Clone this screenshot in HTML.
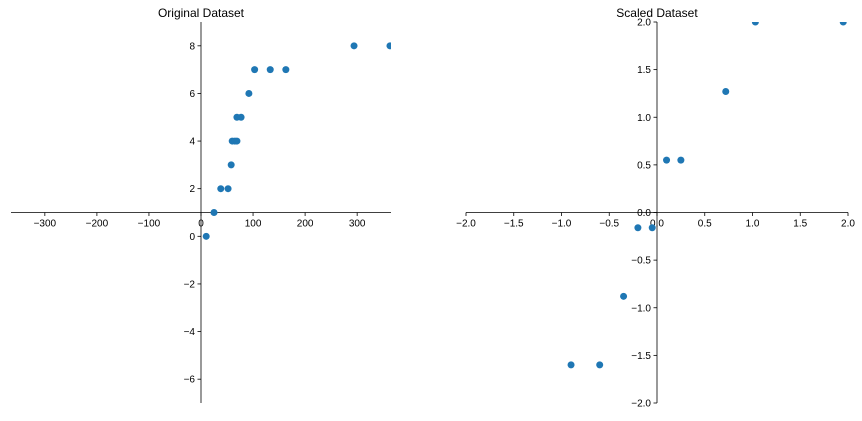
<!DOCTYPE html>
<html><head><meta charset="utf-8"><style>
body{margin:0;background:#fff;}
svg text{font-family:"Liberation Sans","DejaVu Sans",sans-serif;font-size:10px;fill:#000;}
</style></head><body>
<svg width="862" height="416" id="fig">
<rect width="862" height="416" fill="#fff"/>
</svg>
<script>
const origX=[10,25,38,52,58,60,65,69,69,77,92,103,133,163,294,363];
const origY=[0,1,2,2,3,4,4,4,5,5,6,7,7,7,8,8];
const scaledX=[-0.9,-0.6,-0.35,-0.2,-0.05,0.1,0.25,0.72,1.03,1.95];
const scaledY=[-1.6,-1.6,-0.88,-0.16,-0.16,0.55,0.55,1.27,2.0,2.0];
const origXTicks=[-300,-200,-100,0,100,200,300];
const origYTicks=[-6,-4,-2,0,2,4,6,8];
const scaledTicks=[-2.0,-1.5,-1.0,-0.5,0.0,0.5,1.0,1.5,2.0];
const NS="http://www.w3.org/2000/svg";
const svg=document.getElementById('fig');
function el(t,a,p){const e=document.createElementNS(NS,t);for(const k in a)e.setAttribute(k,a[k]);(p||svg).appendChild(e);return e;}
let cid=0;
function panel(name,title,L,R,T,B,xmin,xmax,ymin,ymax,xs,ys,xt,yt,fmt){
  const g=el('g',{});
  
  
  const sx=v=>L+(v-xmin)/(xmax-xmin)*(R-L);
  const sy=v=>B-(v-ymin)/(ymax-ymin)*(B-T);
  const cx=(L+R)/2, cy=(T+B)/2;
  cid++;
  const cp=el('clipPath',{id:'clip'+cid},g);
  el('rect',{x:L,y:T,width:R-L,height:B-T},cp);
  const tt=el('text',{x:cx,y:T-5,'text-anchor':'middle',style:'font-size:12px'},g);tt.textContent=title;
  
  
  const xa=el('line',{x1:L,x2:R,y1:cy,y2:cy,stroke:'#000','stroke-width':0.8},g);
  
  
  const ya=el('line',{x1:cx,x2:cx,y1:T,y2:B,stroke:'#000','stroke-width':0.8},g);
  
  
  xt.forEach(v=>{const x=sx(v);el('line',{x1:x,x2:x,y1:cy,y2:cy+3.5,stroke:'#000','stroke-width':0.8},g);
    const t=el('text',{x:x,y:cy+14,'text-anchor':'middle'},g);t.textContent=fmt(v).replace('-','−');
    
    });
  yt.forEach(v=>{const y=sy(v);el('line',{x1:cx-3.5,x2:cx,y1:y,y2:y,stroke:'#000','stroke-width':0.8},g);
    const t=el('text',{x:cx-6,y:y+3.5,'text-anchor':'end'},g);t.textContent=fmt(v).replace('-','−');
    
    });
  const pg=el('g',{'clip-path':'url(#clip'+cid+')'},g);
  xs.forEach((v,i)=>{const c=el('circle',{cx:sx(v),cy:sy(ys[i]),r:3.5,fill:'#1f77b4'},pg);
    
    });
}
panel('original-dataset-panel','Original Dataset',11,391,22,403,-365,365,-7,9,origX,origY,origXTicks,origYTicks,v=>String(v));
panel('scaled-dataset-panel','Scaled Dataset',466,848,22,403,-2,2,-2,2,scaledX,scaledY,scaledTicks,scaledTicks,v=>v.toFixed(1));
</script>
</body></html>
